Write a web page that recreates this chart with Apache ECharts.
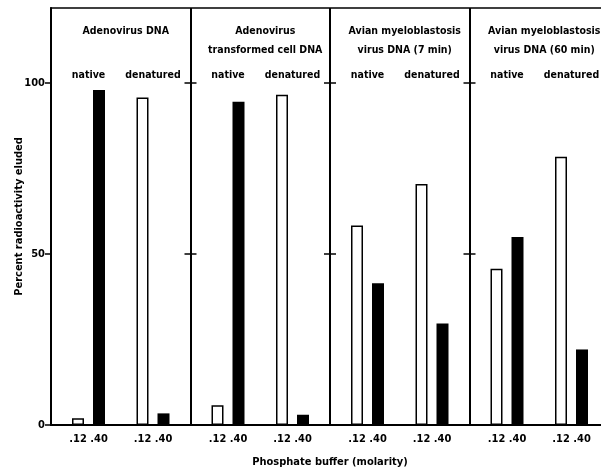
<!DOCTYPE html>
<html>
<head>
<meta charset="utf-8">
<script src="https://cdn.jsdelivr.net/npm/echarts@6/dist/echarts.min.js"></script>
<style>
html,body{margin:0;padding:0;background:#fff;}
#chart{width:601px;height:472px;}
</style>
</head>
<body>
<div id="chart"></div>
<script>
// ---- data ----
const panelTitles = [
  'Adenovirus DNA',
  'Adenovirus\ntransformed cell DNA',
  'Avian myeloblastosis\nvirus DNA (7 min)',
  'Avian myeloblastosis\nvirus DNA (60 min)'
];
const conditions = ['native', 'denatured'];
const buffers = ['.12', '.40'];
const nativeAt012 = [2, 5.8, 58.4, 45.7];
const nativeAt040 = [98, 94.6, 41.5, 55];
const denaturedAt012 = [95.8, 96.6, 70.5, 78.5];
const denaturedAt040 = [3.4, 3, 29.7, 22.1];
const yTicks = [0, 50, 100];
const crossTicks = [50, 100];
const yMax = 122;
const yName = 'Percent radioactivity eluded';
const xName = 'Phosphate buffer (molarity)';

// ---- layout ----
const FONT = '"Liberation Sans Narrow", "DejaVu Sans Condensed", "Arial Narrow", sans-serif';
const FS = 10.5;
const plotLeft = 51, plotTop = 8, plotHeight = 417;
const panelW = 139.5, nPanels = 4;
const inset = 5.25;

const chart = echarts.init(document.getElementById('chart'), null, {renderer: 'canvas'});

const grids = [{left: plotLeft, top: plotTop, width: panelW * nPanels, height: plotHeight,
  outerBoundsMode: 'none', containLabel: false,
  show: true, borderColor: '#000', borderWidth: 1.5, backgroundColor: 'transparent'}];
const xAxes = [{
  type: 'value', gridIndex: 0, min: 0, max: nPanels, interval: 1,
  axisLine: {show: true, onZero: false, lineStyle: {color: '#000', width: 2}},
  axisTick: {show: false}, axisLabel: {show: false},
  splitLine: {show: true, lineStyle: {color: '#000', width: 2}},
  name: xName, nameLocation: 'middle', nameGap: 32, nameMoveOverlap: false,
  nameTextStyle: {fontFamily: FONT, fontSize: FS + 0.5, fontWeight: 'bold', color: '#000'}
}];
const yAxes = [{
  type: 'value', gridIndex: 0, min: 0, max: yMax, position: 'left',
  axisLine: {show: true, lineStyle: {color: '#000', width: 2}},
  axisTick: {show: true, customValues: yTicks, length: 6, lineStyle: {color: '#000', width: 1.5}},
  axisLabel: {show: true, customValues: yTicks, margin: 6, fontFamily: FONT, fontSize: FS + 0.5, fontWeight: 'bold', color: '#000'},
  splitLine: {show: false},
  name: yName, nameLocation: 'middle', nameGap: 26, nameMoveOverlap: false,
  nameTextStyle: {fontFamily: FONT, fontSize: FS + 0.5, fontWeight: 'bold', color: '#000'}
}];
// cross ticks at panel dividers (one going left, one going right)
for (let k = 1; k <= nPanels; k++) {
  [false, true].forEach(inside => {
    yAxes.push({
      type: 'value', gridIndex: 0, min: 0, max: yMax, position: 'left',
      offset: -(panelW * k),
      axisLine: {show: false},
      axisTick: {show: true, customValues: crossTicks, inside: inside, length: (k === nPanels && inside) ? 11 : 6,
        lineStyle: {color: '#000', width: 1.5}},
      axisLabel: {show: false}, splitLine: {show: false}
    });
  });
}
const series = [];
const titles = [];
for (let p = 0; p < nPanels; p++) {
  const gi = p + 1;
  grids.push({left: plotLeft + p * panelW + inset, top: plotTop, width: panelW - 2 * inset, height: plotHeight,
    outerBoundsMode: 'none', containLabel: false});
  xAxes.push({
    type: 'category', gridIndex: gi, data: conditions, position: 'top',
    axisLine: {show: false}, axisTick: {show: false}, splitLine: {show: false},
    axisLabel: {show: true, interval: 0, inside: true, margin: 62, fontFamily: FONT, fontSize: FS, fontWeight: 'bold', color: '#000'}
  });
  yAxes.push({type: 'value', gridIndex: gi, min: 0, max: yMax, show: false});
  const vals012 = [nativeAt012[p], denaturedAt012[p]];
  const vals040 = [nativeAt040[p], denaturedAt040[p]];
  [[buffers[0], vals012, true], [buffers[1], vals040, false]].forEach(([name, vals, open]) => {
    series.push({
      type: 'bar', name: name, xAxisIndex: gi, yAxisIndex: yAxes.length - 1,
      data: vals, barWidth: 12, barGap: '75%',
      itemStyle: open ? {color: '#fff', borderColor: '#000', borderWidth: 1.5} : {color: '#000'},
      label: {show: true, position: 'bottom', distance: 9, formatter: name,
        fontFamily: FONT, fontSize: FS + 0.5, fontWeight: 'bold', color: '#000'},
      emphasis: {disabled: true}, animation: false, silent: true
    });
  });
  titles.push({
    text: panelTitles[p], left: plotLeft + p * panelW + panelW / 2, top: 17, textAlign: 'center',
    textStyle: {fontFamily: FONT, fontSize: FS, fontWeight: 'bold', color: '#000', lineHeight: 19}
  });
}

chart.setOption({
  animation: false,
  backgroundColor: '#fff',
  title: titles,
  grid: grids,
  xAxis: xAxes,
  yAxis: yAxes,
  series: series
});
</script>
</body>
</html>
